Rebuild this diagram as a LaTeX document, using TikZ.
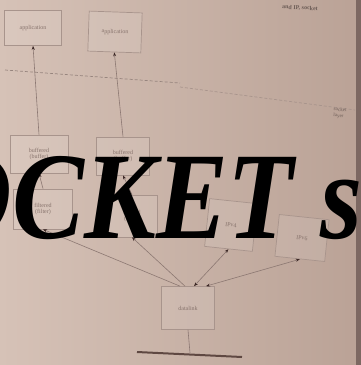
\documentclass[tikz,border=0pt]{standalone}
\usepackage{fontspec}
\setmainfont{Liberation Serif}
\usetikzlibrary{arrows.meta}
\definecolor{paperL}{RGB}{214,194,183}
\definecolor{paperR}{RGB}{186,162,150}
\definecolor{boxink}{RGB}{168,148,140}
\definecolor{txtink}{RGB}{135,115,108}
\definecolor{lineink}{RGB}{140,120,114}
\definecolor{tipink}{RGB}{60,40,38}
\definecolor{groundink}{RGB}{95,72,66}
\definecolor{edgeink}{RGB}{125,104,98}
\begin{document}
\begin{tikzpicture}[x=1pt,y=-1pt,
  boxnode/.style={draw=boxink, line width=0.7pt, fill=white, fill opacity=0.10, text opacity=1,
    text=txtink, font=\fontsize{6}{6.5}\selectfont, align=center, inner sep=1pt},
  conn/.style={draw=lineink, line width=0.6pt},
  tipend/.style={-{Stealth[length=4pt,width=3pt,color=tipink]}},
  tipboth/.style={{Stealth[length=4pt,width=3pt,color=tipink]}-{Stealth[length=4pt,width=3pt,color=tipink]}},
  bigtext/.style={font=\fontsize{124}{124}\selectfont\bfseries\itshape, text=black, inner sep=0pt}]
\useasboundingbox (0,0) rectangle (361,365);
\clip (0,0) rectangle (361,365);
% paper
\shade[left color=paperL, right color=paperR] (0,0) rectangle (361,365);
\fill[edgeink] (356,0) rectangle (361,365);
% page furniture
\draw[boxink!90!black, line width=0.7pt, dash pattern=on 3pt off 2pt] (5,70) -- (180,83);
\draw[boxink, line width=0.7pt, dash pattern=on 3pt off 2pt] (180,87) -- (355,110);
\node[text=txtink!80!black, font=\fontsize{6}{6}\bfseries\selectfont, rotate=-3, inner sep=0pt] (hdr) at (300,8) {and IP, socket};
\node[text=txtink!80!black, font=\fontsize{5}{6}\selectfont, rotate=-3, inner sep=0pt, align=left] (side) at (340,113) {socket\\ layer};
% boxes
\node[boxnode, minimum width=57pt, minimum height=35pt] (app1) at (33,28) {application};
\node[boxnode, minimum width=53pt, minimum height=40pt, rotate=-2] (app2) at (115,32) {application};
\node[boxnode, minimum width=58pt, minimum height=38pt] (buf1) at (39,154) {buffered\\(buffer)};
\node[boxnode, minimum width=53pt, minimum height=38pt] (buf2) at (123,156) {buffered\\(buffer)};
\node[boxnode, minimum width=59pt, minimum height=40pt] (low1) at (43,209) {filtered\\(filter)};
\node[boxnode, minimum width=50pt, minimum height=42pt] (low2) at (132,216) {filtered\\(filter)};
\node[boxnode, minimum width=48pt, minimum height=48pt, rotate=-6] (ipv4) at (231,225) {IPv4};
\node[boxnode, minimum width=50pt, minimum height=42pt, rotate=-6] (ipv6) at (302,238) {IPv6};
\node[boxnode, minimum width=53pt, minimum height=43pt] (dl) at (188,308) {datalink};
\coordinate (gnd) at (190,353);
% connectors
\draw[conn, tipend] (buf1.north) -- (app1.south);
\draw[conn, tipend] (buf2.north) -- (app2.south);
\draw[conn, tipend] (low1.north) -- (buf1.south);
\draw[conn, tipend] (low2.north) -- (buf2.south);
\draw[conn, tipend] ([xshift=-8pt]dl.north) -- (low1.south);
\draw[conn, tipend] ([xshift=-3pt]dl.north) -- (low2.south);
\draw[conn, tipboth] ([xshift=6pt]dl.north) -- (ipv4.south);
\draw[conn, tipboth] ([xshift=18pt]dl.north) -- (ipv6.south);
\draw[conn] (dl.south) -- (gnd);
\draw[groundink, line width=2pt] (137,352) -- (242,357);
% overlay title
\node[bigtext, anchor=base east, xscale=0.87] (title) at (363,238) {OCKET s};
\end{tikzpicture}
\end{document}
